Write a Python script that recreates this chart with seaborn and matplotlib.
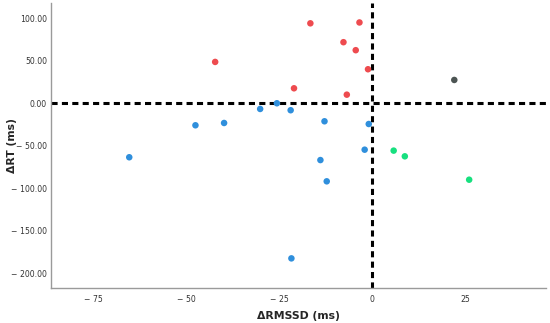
import matplotlib
matplotlib.use("Agg")
import matplotlib.pyplot as plt
import seaborn as sns
import pandas as pd

# Données
red_x = [-42.2, -16.6, -3.4, -7.7, -4.4, -1.1, -21.0, -6.8]
red_y = [48.6, 94.0, 95.0, 71.8, 62.4, 40.0, 17.6, 10.1]
gray_x = [22.1]
gray_y = [27.4]
blue_x = [-65.3, -47.5, -39.8, -30.1, -25.6, -21.9, -12.8, -0.9, -2.0, -13.9, -12.2, -21.7]
blue_y = [-63.5, -25.9, -23.2, -6.7, 0.0, -8.2, -21.2, -24.4, -54.6, -66.8, -91.8, -182.4]
green_x = [5.8, 8.8, 26.1]
green_y = [-55.7, -62.4, -89.9]

x_ticks = [-75, -50, -25, 0, 25]
y_ticks = [100, 50, 0, -50, -100, -150, -200]

groups = {"red": (red_x, red_y), "gray": (gray_x, gray_y),
          "blue": (blue_x, blue_y), "green": (green_x, green_y)}
palette = {"red": "#ee4b4f", "gray": "#4d5553", "blue": "#2f8fdc", "green": "#17e07f"}

rows = []
for name, (xs, ys) in groups.items():
    for x, y in zip(xs, ys):
        rows.append({"dRMSSD": x, "dRT": y, "group": name})
df = pd.DataFrame(rows)

sns.set_style("white")
fig = plt.figure(figsize=(5.5, 3.23), dpi=100)
ax = fig.add_axes([0.093, 0.109, 0.9, 0.882])

sns.scatterplot(data=df, x="dRMSSD", y="dRT", hue="group", palette=palette,
                s=22, linewidth=0, legend=False, ax=ax, zorder=3)

ax.axhline(0, color="black", linestyle=(0, (2, 1.4)), linewidth=2.2, zorder=2)
ax.axvline(0, color="black", linestyle=(0, (2, 1.4)), linewidth=2.2, zorder=2)

ax.set_xlim(-86.3, 46.8)
ax.set_ylim(-217, 118)

def fmt_num(v, dec):
    s = f"{abs(v):.{dec}f}"
    return ("\u2212 " + s) if v < 0 else s

ax.set_xticks(x_ticks)
ax.set_xticklabels([fmt_num(v, 0) for v in x_ticks])
ax.set_yticks(y_ticks)
ax.set_yticklabels([fmt_num(v, 2) for v in y_ticks])
ax.tick_params(axis="both", labelsize=5.6, colors="#333333", length=0)
ax.tick_params(axis="y", pad=3)
ax.tick_params(axis="x", pad=5)

for side in ["top", "right"]:
    ax.spines[side].set_visible(False)
for side in ["left", "bottom"]:
    ax.spines[side].set_color("#9a9a9a")
    ax.spines[side].set_linewidth(1.0)

ax.set_xlabel("\u0394RMSSD (ms)", fontsize=7.8, fontweight="bold", labelpad=5)
ax.set_ylabel("\u0394RT (ms)", fontsize=7.8, fontweight="bold")
ax.yaxis.set_label_coords(-0.068, 0.5)

plt.savefig("out.png", dpi=100)
plt.close()
